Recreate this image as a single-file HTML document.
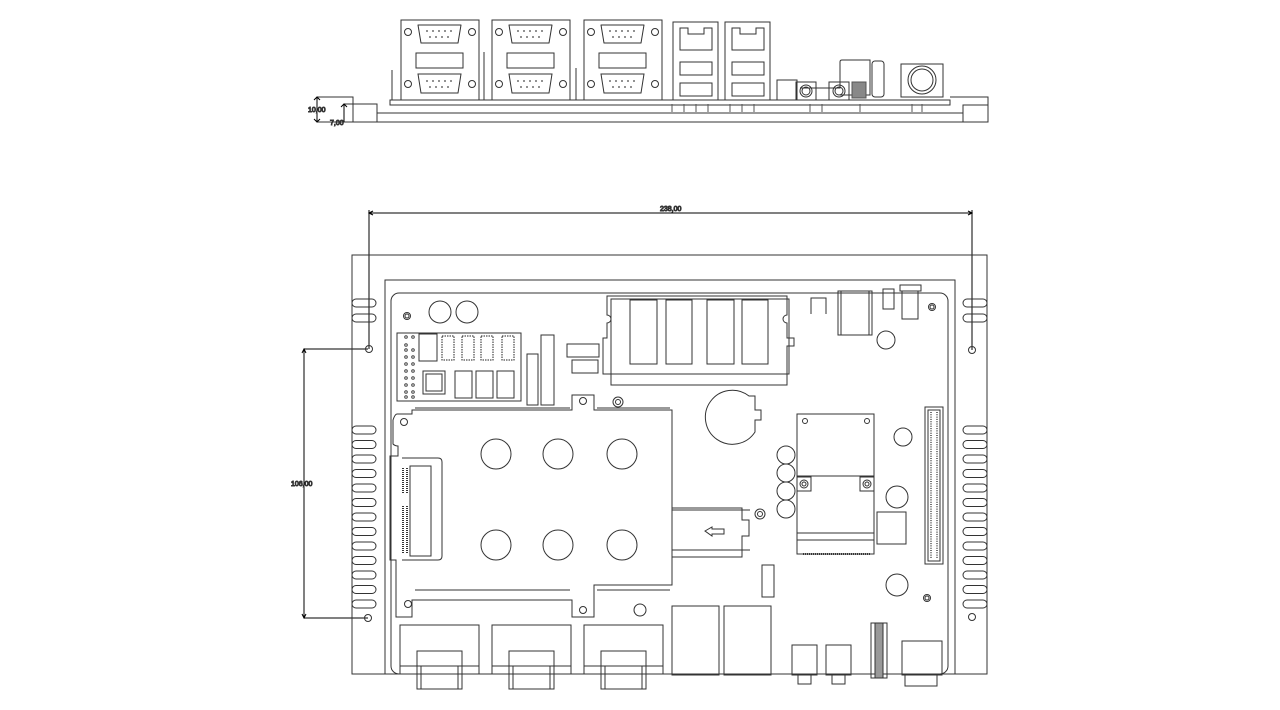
<!DOCTYPE html>
<html><head><meta charset="utf-8"><style>
html,body{margin:0;padding:0;background:#fff;width:1280px;height:710px;overflow:hidden}
svg{display:block}
text{font-family:"Liberation Sans",sans-serif;font-size:7px;fill:#000}
</style></head><body>
<svg width="1280" height="710" viewBox="0 0 1280 710" fill="none" stroke="#333" stroke-width="1">
<g>
<path d="M317 97H353V122H317M353 97V122"/>
<rect x="344" y="104" width="33" height="18"/>
<path d="M317 122H988V97H950"/>
<rect x="963" y="105" width="25" height="17"/>
<path d="M377 113H963"/>
<rect x="390" y="100" width="560" height="5"/>
<path d="M392 70V100M484 52V100M576 68V100"/>
<path d="M317 97V122M314 100L317 97L320 100M314 119L317 122L320 119" stroke="#000"/>
<path d="M344 104V122M341 107L344 104L347 107" stroke="#000"/>
<text x="308" y="112">10,00</text>
<text x="330" y="125">7,00</text>
<g id="db">
<rect x="401" y="20" width="78" height="80"/>
<path d="M418 25H461L458 43H421Z" stroke-linejoin="round"/>
<circle cx="408" cy="32" r="3.5"/><circle cx="472" cy="32" r="3.5"/>
<rect x="416" y="53" width="47" height="15"/>
<path d="M418 74H461L458 93H421Z"/>
<circle cx="408" cy="84" r="3.5"/><circle cx="472" cy="84" r="3.5"/>
<g stroke="none" fill="#444"><circle cx="427" cy="31" r=".9"/><circle cx="433" cy="31" r=".9"/><circle cx="439" cy="31" r=".9"/><circle cx="445" cy="31" r=".9"/><circle cx="451" cy="31" r=".9"/><circle cx="430" cy="37" r=".9"/><circle cx="436" cy="37" r=".9"/><circle cx="442" cy="37" r=".9"/><circle cx="448" cy="37" r=".9"/>
<circle cx="427" cy="81" r=".9"/><circle cx="433" cy="81" r=".9"/><circle cx="439" cy="81" r=".9"/><circle cx="445" cy="81" r=".9"/><circle cx="451" cy="81" r=".9"/><circle cx="430" cy="87" r=".9"/><circle cx="436" cy="87" r=".9"/><circle cx="442" cy="87" r=".9"/><circle cx="448" cy="87" r=".9"/></g>
</g>
<use href="#db" x="91"/><use href="#db" x="183"/>
<g id="lan"><rect x="673" y="22" width="45" height="78"/><path d="M680 28H688V34H704V28H712V50H680Z"/><rect x="680" y="62" width="32" height="13"/><rect x="680" y="83" width="32" height="13"/></g>
<use href="#lan" x="52"/>
<rect x="777" y="80" width="20" height="20"/>
<path d="M800 88H840V78"/>
<rect x="796" y="82" width="20" height="18"/><circle cx="806" cy="91" r="6"/><circle cx="806" cy="91" r="4"/>
<rect x="829" y="82" width="20" height="18"/><circle cx="839" cy="91" r="6"/><circle cx="839" cy="91" r="4"/>
<path d="M840 78V62Q840 60 842 60H870V95H840"/>
<rect x="872" y="61" width="12" height="36" rx="3"/>
<rect x="852" y="82" width="14" height="16" fill="#888" stroke="#555"/>
<rect x="901" y="64" width="42" height="33"/><circle cx="922" cy="80" r="14"/><circle cx="922" cy="80" r="11"/>
<g stroke="#555"><path d="M672 104V112M684 104V112M696 104V112M708 104V112M730 104V112M742 104V112M754 104V112M810 104V112M822 104V112M860 104V112M912 104V112M922 104V112"/></g>
</g>

<g stroke="#000">
<path d="M369 213H972M369 210V349M972 210V350"/>
<path d="M373 211L369 213L373 215M968 211L972 213L968 215"/>
<path d="M304 349H368M304 618H368M304 349V618"/>
<path d="M302 353L304 349L306 353M302 614L304 618L306 614"/>
</g>
<text x="660" y="211">238,00</text>
<text x="291" y="486">106,00</text>

<path d="M352 674V255H987V674Z"/>
<path d="M385 674V280H955V674"/>
<circle cx="369" cy="349" r="3.5"/><circle cx="972" cy="350" r="3.5"/>
<circle cx="368" cy="618" r="3.5"/><circle cx="972" cy="617" r="3.5"/>
<g id="finsL">
<rect x="352" y="299" width="24" height="8" rx="4"/>
<rect x="352" y="314" width="24" height="8" rx="4"/>
</g>
<g id="fl">
<rect x="352" y="426" width="24" height="8" rx="4"/>
<rect x="352" y="440.5" width="24" height="8" rx="4"/>
<rect x="352" y="455" width="24" height="8" rx="4"/>
<rect x="352" y="469.5" width="24" height="8" rx="4"/>
<rect x="352" y="484" width="24" height="8" rx="4"/>
<rect x="352" y="498.5" width="24" height="8" rx="4"/>
<rect x="352" y="513" width="24" height="8" rx="4"/>
<rect x="352" y="527.5" width="24" height="8" rx="4"/>
<rect x="352" y="542" width="24" height="8" rx="4"/>
<rect x="352" y="556.5" width="24" height="8" rx="4"/>
<rect x="352" y="571" width="24" height="8" rx="4"/>
<rect x="352" y="585.5" width="24" height="8" rx="4"/>
<rect x="352" y="600" width="24" height="8" rx="4"/>
</g>
<use href="#finsL" x="611"/><use href="#fl" x="611"/>
<rect x="391" y="293" width="557" height="381" rx="8"/>
<circle cx="407" cy="316" r="3.5"/><circle cx="407" cy="316" r="2"/>
<circle cx="440" cy="312" r="11"/><circle cx="467" cy="312" r="11"/>
<rect x="397" y="333" width="124" height="68"/>
<g stroke="#444">
<circle cx="406" cy="337" r="1.3"/><circle cx="413" cy="337" r="1.3"/>
<circle cx="406" cy="345" r="1.3"/>
<circle cx="406" cy="350" r="1.3"/><circle cx="413" cy="350" r="1.3"/>
<circle cx="406" cy="357" r="1.3"/><circle cx="413" cy="357" r="1.3"/>
<circle cx="406" cy="364" r="1.3"/><circle cx="413" cy="364" r="1.3"/>
<circle cx="406" cy="371" r="1.3"/><circle cx="413" cy="371" r="1.3"/>
<circle cx="406" cy="378" r="1.3"/><circle cx="413" cy="378" r="1.3"/>
<circle cx="406" cy="385" r="1.3"/><circle cx="413" cy="385" r="1.3"/>
<circle cx="406" cy="392" r="1.3"/><circle cx="413" cy="392" r="1.3"/>
<circle cx="406" cy="397" r="1.3"/><circle cx="413" cy="397" r="1.3"/>
</g>
<rect x="419" y="334" width="18" height="27"/>
<g stroke="#222" stroke-dasharray="1.5 1">
<rect x="442" y="336" width="12" height="24"/><rect x="462" y="336" width="12" height="24"/>
<rect x="481" y="336" width="12" height="24"/><rect x="502" y="336" width="12" height="24"/>
</g>
<rect x="423" y="371" width="22" height="23"/><rect x="426" y="374" width="16" height="17"/>
<rect x="455" y="371" width="17" height="27"/><rect x="476" y="371" width="17" height="27"/><rect x="497" y="371" width="17" height="27"/>
<rect x="527" y="354" width="11" height="51"/><rect x="541" y="335" width="13" height="70"/>
<rect x="567" y="344" width="32" height="13"/><rect x="572" y="360" width="26" height="13"/>
<path d="M613 296H787V315A4 4 0 0 0 787 323V338H794V346H787V385H611V374H603V338H607V323A4 4 0 0 0 607 315V296Z"/>
<rect x="611" y="299" width="178" height="75"/>
<rect x="630" y="300" width="27" height="64"/><rect x="666" y="300" width="26" height="64"/>
<rect x="707" y="300" width="27" height="64"/><rect x="742" y="300" width="26" height="64"/>
<path d="M811 314V298H826V314M812 298H826"/>
<rect x="838" y="291" width="34" height="44"/><rect x="841" y="291" width="28" height="44"/>
<rect x="883" y="289" width="11" height="20"/>
<rect x="900" y="285" width="21" height="6"/><rect x="902" y="291" width="16" height="28"/>
<circle cx="932" cy="307" r="3.5"/><circle cx="932" cy="307" r="2"/>
<circle cx="886" cy="340" r="9"/>
<path d="M397 414H412V410H572V395H594V410H604V410H672V585H594V617H572V600H412V617H396V560H390V456H398V446Q395 446 393 444V420Q395 414 397 414Z"/>
<path d="M415 408H570M597 408H670M415 590H570M597 590H670M672 510H750M672 550H750"/>
<circle cx="583" cy="401" r="3.5"/><circle cx="404" cy="422" r="3.5"/><circle cx="408" cy="604" r="3.5"/><circle cx="583" cy="610" r="3.5"/>
<circle cx="618" cy="402" r="5"/><circle cx="618" cy="402" r="2.5"/>
<circle cx="496" cy="454" r="15"/><circle cx="558" cy="454" r="15"/><circle cx="622" cy="454" r="15"/>
<circle cx="496" cy="545" r="15"/><circle cx="558" cy="545" r="15"/><circle cx="622" cy="545" r="15"/>
<path d="M402 458H438Q442 458 442 462V556Q442 560 438 560H402"/>
<rect x="410" y="466" width="21" height="90"/>
<path d="M403 468V493M407 468V493M403 506V554M407 506V554" stroke="#333" stroke-width="2" stroke-dasharray="1 1"/>
<circle cx="640" cy="610" r="6"/>
<path d="M672 508H742V520H749V536H742V557H672"/>
<path d="M705 531L712 527V529H724V534H712V536Z"/>
<circle cx="760" cy="514" r="5"/><circle cx="760" cy="514" r="2.5"/>
<rect x="762" y="565" width="12" height="32"/>
<path d="M749 396A27 27 0 1 0 755 432V420H761V410H755V396Z"/>
<rect x="797" y="414" width="77" height="126"/>
<path d="M797 476H874M797 533H874"/>
<circle cx="805" cy="421" r="2.5"/><circle cx="867" cy="421" r="2.5"/>
<rect x="797" y="477" width="14" height="14"/><circle cx="804" cy="484" r="4"/><circle cx="804" cy="484" r="2"/>
<rect x="860" y="477" width="14" height="14"/><circle cx="867" cy="484" r="4"/><circle cx="867" cy="484" r="2"/>
<path d="M803 554H870" stroke="#333" stroke-dasharray="1 1" stroke-width="2"/>
<path d="M797 540V554H874V540"/>
<circle cx="786" cy="455" r="9"/><circle cx="786" cy="473" r="9"/><circle cx="786" cy="491" r="9"/><circle cx="786" cy="509" r="9"/>
<circle cx="903" cy="437" r="9"/><circle cx="897" cy="497" r="11"/>
<rect x="877" y="512" width="29" height="32"/>
<circle cx="897" cy="585" r="11"/>
<circle cx="927" cy="598" r="3.5"/><circle cx="927" cy="598" r="2"/>
<rect x="925" y="407" width="18" height="157"/><rect x="928" y="410" width="12" height="151"/>
<path d="M931 412V559M937 412V559" stroke="#444" stroke-dasharray="1 1.3" stroke-width="1.5"/>
<g id="vga"><rect x="400" y="625" width="79" height="49"/><rect x="417" y="651" width="45" height="38"/><path d="M400 666H479M421 666V689M458 666V689"/></g>
<use href="#vga" x="92"/><use href="#vga" x="184"/>
<rect x="672" y="606" width="47" height="69"/><rect x="724" y="606" width="47" height="69"/>
<g id="aud"><rect x="792" y="645" width="25" height="30"/><rect x="798" y="675" width="13" height="9"/></g>
<use href="#aud" x="34"/>
<rect x="871" y="623" width="16" height="55"/><rect x="875" y="623" width="8" height="55" fill="#999"/>
<rect x="902" y="641" width="40" height="34"/><rect x="905" y="675" width="32" height="11"/>
</svg>
</body></html>
